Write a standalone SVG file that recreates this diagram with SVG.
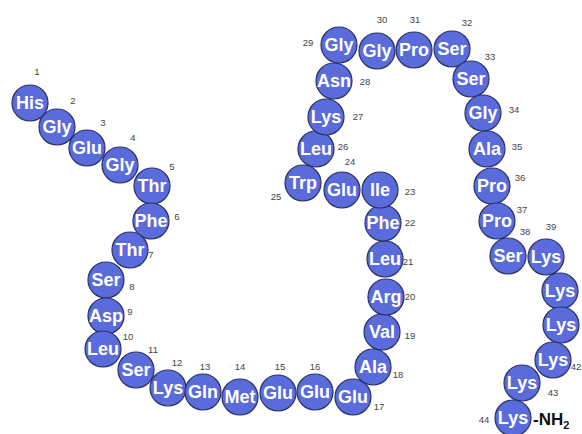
<svg xmlns="http://www.w3.org/2000/svg" width="582" height="434" viewBox="0 0 582 434">
<style>
.r circle{fill:#5a6bdb;stroke:#2b3262;stroke-width:1.2}
.r text.a{font-family:"Liberation Sans",Arial,sans-serif;font-weight:bold;font-size:18px;fill:#ffffff;text-anchor:middle}
.r text.n{font-family:"Liberation Sans",Arial,sans-serif;font-size:9.5px;fill:#444444;text-anchor:middle}
.nh{font-family:"Liberation Sans",Arial,sans-serif;font-weight:bold;font-size:17px;fill:#111111}
</style>
<rect width="582" height="434" fill="#ffffff"/>
<g id="r1" class="r"><circle cx="30" cy="103" r="18"/><text class="a" x="30" y="109">His</text><text class="n" x="37" y="75">1</text></g>
<g id="r2" class="r"><circle cx="57" cy="127" r="18"/><text class="a" x="57" y="133">Gly</text><text class="n" x="73" y="104">2</text></g>
<g id="r3" class="r"><circle cx="87" cy="148" r="18"/><text class="a" x="87" y="154">Glu</text><text class="n" x="103" y="126">3</text></g>
<g id="r4" class="r"><circle cx="120" cy="165" r="18"/><text class="a" x="120" y="171">Gly</text><text class="n" x="133" y="141">4</text></g>
<g id="r5" class="r"><circle cx="152" cy="186" r="18"/><text class="a" x="152" y="192">Thr</text><text class="n" x="172" y="170">5</text></g>
<g id="r6" class="r"><circle cx="151" cy="221" r="18"/><text class="a" x="151" y="227">Phe</text><text class="n" x="177" y="220">6</text></g>
<g id="r7" class="r"><circle cx="130" cy="250" r="18"/><text class="a" x="130" y="256">Thr</text><text class="n" x="151" y="258">7</text></g>
<g id="r8" class="r"><circle cx="106" cy="280" r="18"/><text class="a" x="106" y="286">Ser</text><text class="n" x="132" y="290">8</text></g>
<g id="r9" class="r"><circle cx="106" cy="316" r="18"/><text class="a" x="106" y="322">Asp</text><text class="n" x="130" y="315">9</text></g>
<g id="r10" class="r"><circle cx="103" cy="349" r="18"/><text class="a" x="103" y="355">Leu</text><text class="n" x="128" y="340">10</text></g>
<g id="r11" class="r"><circle cx="136" cy="370" r="18"/><text class="a" x="136" y="376">Ser</text><text class="n" x="153" y="353">11</text></g>
<g id="r12" class="r"><circle cx="168" cy="388" r="18"/><text class="a" x="168" y="394">Lys</text><text class="n" x="177" y="366">12</text></g>
<g id="r13" class="r"><circle cx="203" cy="392" r="18"/><text class="a" x="203" y="398">Gln</text><text class="n" x="205" y="370">13</text></g>
<g id="r14" class="r"><circle cx="240" cy="397" r="18"/><text class="a" x="240" y="403">Met</text><text class="n" x="240" y="370">14</text></g>
<g id="r15" class="r"><circle cx="278" cy="393" r="18"/><text class="a" x="278" y="399">Glu</text><text class="n" x="280" y="370">15</text></g>
<g id="r16" class="r"><circle cx="315" cy="392" r="18"/><text class="a" x="315" y="398">Glu</text><text class="n" x="315" y="370">16</text></g>
<g id="r17" class="r"><circle cx="353" cy="397" r="18"/><text class="a" x="353" y="403">Glu</text><text class="n" x="379" y="410">17</text></g>
<g id="r18" class="r"><circle cx="373" cy="367" r="18"/><text class="a" x="373" y="373">Ala</text><text class="n" x="398" y="378">18</text></g>
<g id="r19" class="r"><circle cx="382" cy="332" r="18"/><text class="a" x="382" y="338">Val</text><text class="n" x="410" y="339">19</text></g>
<g id="r20" class="r"><circle cx="386" cy="297" r="18"/><text class="a" x="386" y="303">Arg</text><text class="n" x="410" y="300">20</text></g>
<g id="r21" class="r"><circle cx="385" cy="259" r="18"/><text class="a" x="385" y="265">Leu</text><text class="n" x="408" y="265">21</text></g>
<g id="r22" class="r"><circle cx="383" cy="223" r="18"/><text class="a" x="383" y="229">Phe</text><text class="n" x="410" y="226">22</text></g>
<g id="r23" class="r"><circle cx="380" cy="190" r="18"/><text class="a" x="380" y="196">Ile</text><text class="n" x="410" y="195">23</text></g>
<g id="r24" class="r"><circle cx="342" cy="190" r="18"/><text class="a" x="342" y="196">Glu</text><text class="n" x="350" y="165">24</text></g>
<g id="r25" class="r"><circle cx="303" cy="183" r="18"/><text class="a" x="303" y="189">Trp</text><text class="n" x="276" y="200">25</text></g>
<g id="r26" class="r"><circle cx="316" cy="149" r="18"/><text class="a" x="316" y="155">Leu</text><text class="n" x="343" y="150">26</text></g>
<g id="r27" class="r"><circle cx="326" cy="117" r="18"/><text class="a" x="326" y="123">Lys</text><text class="n" x="358" y="120">27</text></g>
<g id="r28" class="r"><circle cx="334" cy="81" r="18"/><text class="a" x="334" y="87">Asn</text><text class="n" x="365" y="85">28</text></g>
<g id="r29" class="r"><circle cx="339" cy="45" r="18"/><text class="a" x="339" y="51">Gly</text><text class="n" x="308" y="46">29</text></g>
<g id="r30" class="r"><circle cx="377" cy="51" r="18"/><text class="a" x="377" y="57">Gly</text><text class="n" x="382" y="23">30</text></g>
<g id="r31" class="r"><circle cx="414" cy="50" r="18"/><text class="a" x="414" y="56">Pro</text><text class="n" x="415" y="23">31</text></g>
<g id="r32" class="r"><circle cx="452" cy="49" r="18"/><text class="a" x="452" y="55">Ser</text><text class="n" x="467" y="26">32</text></g>
<g id="r33" class="r"><circle cx="471" cy="79" r="18"/><text class="a" x="471" y="85">Ser</text><text class="n" x="490" y="60">33</text></g>
<g id="r34" class="r"><circle cx="483" cy="113" r="18"/><text class="a" x="483" y="119">Gly</text><text class="n" x="514" y="113">34</text></g>
<g id="r35" class="r"><circle cx="487" cy="149" r="18"/><text class="a" x="487" y="155">Ala</text><text class="n" x="517" y="150">35</text></g>
<g id="r36" class="r"><circle cx="492" cy="186" r="18"/><text class="a" x="492" y="192">Pro</text><text class="n" x="520" y="181">36</text></g>
<g id="r37" class="r"><circle cx="497" cy="221" r="18"/><text class="a" x="497" y="227">Pro</text><text class="n" x="522" y="213">37</text></g>
<g id="r38" class="r"><circle cx="508" cy="256" r="18"/><text class="a" x="508" y="262">Ser</text><text class="n" x="525" y="235">38</text></g>
<g id="r39" class="r"><circle cx="546" cy="257" r="18"/><text class="a" x="546" y="263">Lys</text><text class="n" x="551" y="230">39</text></g>
<g id="r40" class="r"><circle cx="560" cy="291" r="18"/><text class="a" x="560" y="297">Lys</text></g>
<g id="r41" class="r"><circle cx="561" cy="325" r="18"/><text class="a" x="561" y="331">Lys</text></g>
<g id="r42" class="r"><circle cx="553" cy="360" r="18"/><text class="a" x="553" y="366">Lys</text><text class="n" x="576" y="370" text-anchor="start">42</text></g>
<g id="r43" class="r"><circle cx="522" cy="383" r="18"/><text class="a" x="522" y="389">Lys</text><text class="n" x="553" y="396">43</text></g>
<g id="r44" class="r"><circle cx="513" cy="418" r="18"/><text class="a" x="513" y="424">Lys</text><text class="n" x="484" y="423">44</text></g>
<text class="nh" x="533" y="425">-NH<tspan font-size="11" dy="4">2</tspan></text>
</svg>
